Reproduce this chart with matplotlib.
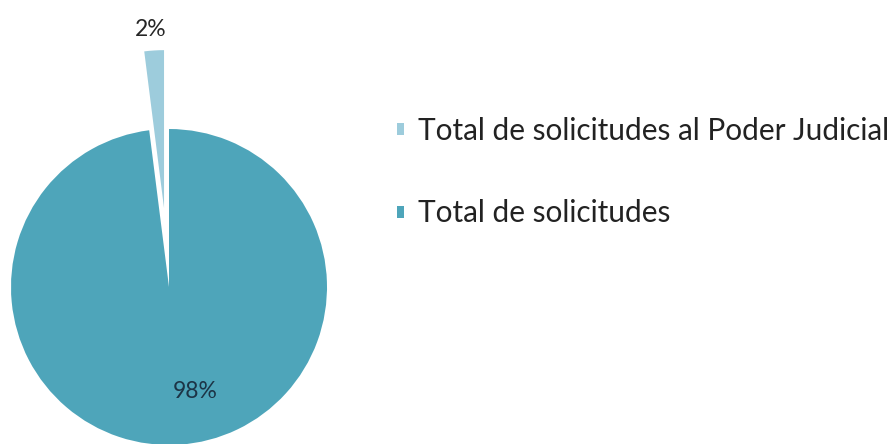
import matplotlib.pyplot as plt

# data
labels = ['Total de solicitudes al Poder Judicial', 'Total de solicitudes']
values = [2, 98]
pct_labels = ['2%', '98%']
colors = ['#9DCCDC', '#4EA5BA']

plt.rcParams['font.family'] = ['Lato', 'DejaVu Sans']

fig = plt.figure(figsize=(8.91, 4.44), dpi=100)
ax = fig.add_axes([0, 0, 1, 1])

wedges, texts = ax.pie(values, colors=colors, startangle=90, counterclock=True,
                       explode=[0.5, 0], radius=1)

# place the percentage labels
ax.text(-0.115, 1.63, pct_labels[0], ha='center', va='center', fontsize=16.5, color='#262626')
ax.text(0.165, -0.66, pct_labels[1], ha='center', va='center', fontsize=16.5, color='#1C3446')

# pie centre at pixel (169, 287 from top), radius 158 px
ax.set_xlim(-169 / 158, (891 - 169) / 158)
ax.set_ylim(-157 / 158, (444 - 157) / 158)
ax.set_aspect('auto')
ax.axis('off')

leg = ax.legend(wedges, labels, loc='upper left', bbox_to_anchor=(397 / 891, 1 - 117 / 444),
                frameon=False, fontsize=21.4, handlelength=0.25, handleheight=0.25,
                handletextpad=0.45, labelspacing=1.83, borderpad=0, borderaxespad=0)
for t in leg.get_texts():
    t.set_color('#222222')

fig.savefig('out.png', dpi=100)
